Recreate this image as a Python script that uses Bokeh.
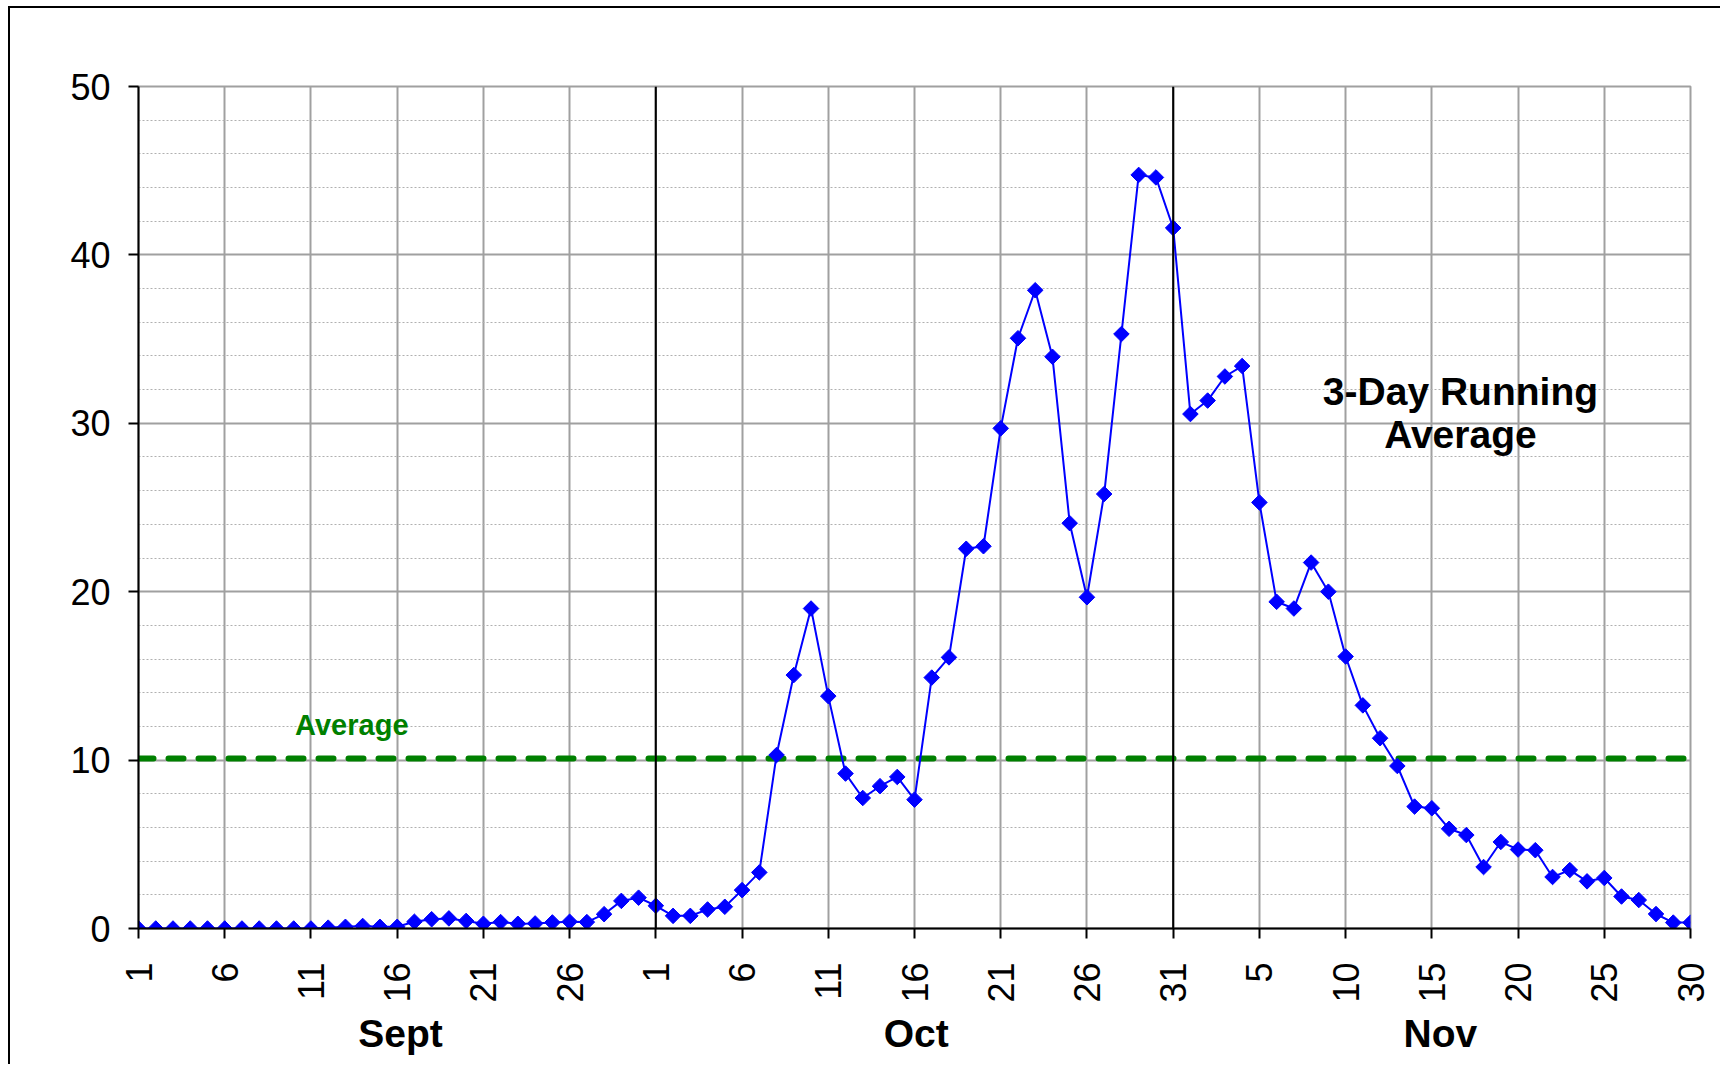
import math
from bokeh.plotting import figure
from bokeh.models import Range1d, FixedTicker, Label, Span, ColumnDataSource, LinearAxis
from bokeh.embed import file_html
from bokeh.resources import INLINE

# ---- data (3-day running average, Sept 1 .. Nov 30) ----
sept = [0.0, 0.0, 0.0, 0.0, 0.0, 0.0, 0.0, 0.0, 0.0, 0.0, 0.0,
        0.05, 0.1, 0.15, 0.1, 0.1, 0.4, 0.55, 0.6, 0.45, 0.28, 0.38,
        0.28, 0.3, 0.36, 0.4, 0.38, 0.85, 1.64, 1.83]
octo = [1.35, 0.75, 0.75, 1.13, 1.29, 2.28, 3.33, 10.3, 15.05, 19.0,
        13.8, 9.2, 7.75, 8.45, 9.0, 7.65, 14.9, 16.1, 22.55, 22.7,
        29.7, 35.05, 37.9, 33.95, 24.07, 19.67, 25.8, 35.3, 44.75, 44.6, 41.6]
nov = [30.55, 31.35, 32.78, 33.4, 25.3, 19.4, 19.0, 21.73, 20.0, 16.15,
       13.25, 11.3, 9.65, 7.24, 7.14, 5.92, 5.55, 3.65, 5.14, 4.69,
       4.65, 3.06, 3.47, 2.8, 3.0, 1.9, 1.69, 0.86, 0.35, 0.35]
average = 10.1

tick_pos = list(range(0, 91, 5))
tick_labels = ["1", "6", "11", "16", "21", "26",
               "1", "6", "11", "16", "21", "26", "31",
               "5", "10", "15", "20", "25", "30"]
months = ["Sept", "Oct", "Nov"]
month_x = [15.2, 45.1, 75.5]
month_bounds = [30, 60]
y_major = [0, 10, 20, 30, 40, 50]
y_minor = [v for v in range(0, 51, 2) if v % 10 != 0]

values = sept + octo + nov
days = list(range(len(values)))
src = ColumnDataSource(dict(x=days, y=values))

FONT = "Liberation Sans"

p = figure(width=1712, height=1058, output_backend="svg", toolbar_location=None,
           x_range=Range1d(0, 90), y_range=Range1d(0, 50),
           min_border_left=128, min_border_top=78, min_border_right=32,
           min_border_bottom=138)
p.styles = {"border-top": "2px solid #000000", "border-left": "2px solid #000000",
            "margin-left": "8px", "margin-top": "6px"}
p.background_fill_color = "white"
p.border_fill_color = "white"
p.outline_line_color = "#A0A0A0"
p.outline_line_width = 2

# axes
p.xaxis.ticker = FixedTicker(ticks=tick_pos)
p.xaxis.major_label_overrides = {t: l for t, l in zip(tick_pos, tick_labels)}
p.xaxis.major_label_orientation = math.pi / 2
p.yaxis.ticker = FixedTicker(ticks=y_major, minor_ticks=y_minor)
for ax in (p.xaxis[0], p.yaxis[0]):
    ax.axis_line_color = "black"
    ax.axis_line_width = 2
    ax.major_tick_line_color = "black"
    ax.major_tick_line_width = 2
    ax.major_tick_in = 0
    ax.major_tick_out = 10
    ax.minor_tick_line_color = None
    ax.major_label_text_font = FONT
    ax.major_label_text_font_size = "36px"
    ax.major_label_text_color = "black"
    ax.major_label_standoff = 18
p.xaxis[0].major_label_standoff = 24

# month names as a second axis below the day axis
month_axis = LinearAxis(ticker=FixedTicker(ticks=month_x),
                        major_label_overrides={x: m for x, m in zip(month_x, months)},
                        axis_line_color=None, major_tick_line_color=None,
                        minor_tick_line_color=None,
                        major_label_text_font=FONT, major_label_text_font_size="39px",
                        major_label_text_font_style="bold",
                        major_label_text_color="black", major_label_standoff=0)
p.add_layout(month_axis, "below")

# grids
p.xgrid.ticker = FixedTicker(ticks=tick_pos)
p.xgrid.grid_line_color = "#A0A0A0"
p.xgrid.grid_line_width = 2
p.ygrid.grid_line_color = "#A0A0A0"
p.ygrid.grid_line_width = 2
p.ygrid.minor_grid_line_color = "#B0B0B0"
p.ygrid.minor_grid_line_width = 1
p.ygrid.minor_grid_line_dash = "2 2"

# month boundaries
for b in month_bounds:
    p.add_layout(Span(location=b, dimension="height", line_color="black", line_width=2))

# average line
p.line([days[0], days[-1]], [average, average], line_color="#008000",
       line_width=6, line_dash="15 15", line_cap="round")

# series
p.line("x", "y", source=src, line_color="#0000FF", line_width=2)
p.scatter("x", "y", source=src, marker="square", angle=math.pi / 4, size=11,
          fill_color="#0000FF", line_color="#0000FF")

# texts
p.add_layout(Label(x=12.37, y=12.1, text="Average", text_color="#008000",
                   text_font=FONT, text_font_size="29px", text_font_style="bold",
                   text_align="center", text_baseline="middle"))
p.add_layout(Label(x=76.66, y=30.64, text="3-Day Running\nAverage", text_color="black",
                   text_font=FONT, text_font_size="39px", text_font_style="bold",
                   text_align="center", text_baseline="middle", text_line_height=1.0))

open("out.html", "w").write(file_html(p, INLINE))
